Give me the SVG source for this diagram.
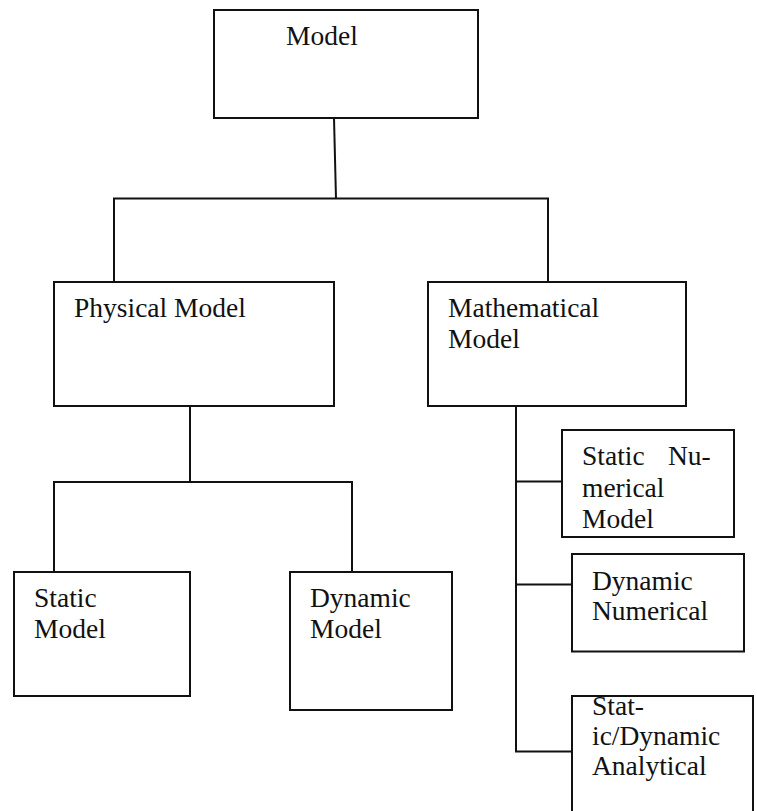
<svg xmlns="http://www.w3.org/2000/svg" width="757" height="811" viewBox="0 0 757 811">
<style>
.box{fill:#fff;stroke:#111;stroke-width:2}
.ln{fill:none;stroke:#111;stroke-width:2}
text{font-family:"Liberation Serif","Times New Roman",serif;font-size:27.5px;fill:#111}
</style>
<rect width="757" height="811" fill="#fff"/>
<g id="connectors">
<path class="ln" d="M334,118 L336,199"/>
<path class="ln" d="M114,282 V198.5 H548 V282"/>
<path class="ln" d="M190,406 V482"/>
<path class="ln" d="M54,572 V482 H352 V572"/>
<path class="ln" d="M516,406 V751.5 H572"/>
<path class="ln" d="M516,481.5 H562"/>
<path class="ln" d="M516,584.5 H572"/>
</g>
<g id="model">
<rect class="box" x="214" y="10" width="264" height="108"/>
<text x="286" y="45">Model</text>
</g>
<g id="physical">
<rect class="box" x="54" y="282" width="280" height="124"/>
<text x="74" y="317">Physical Model</text>
</g>
<g id="mathematical">
<rect class="box" x="428" y="282" width="258" height="124"/>
<text x="448" y="317">Mathematical</text>
<text x="448" y="348">Model</text>
</g>
<g id="static-model">
<rect class="box" x="14" y="572" width="176" height="124"/>
<text x="34" y="607">Static</text>
<text x="34" y="638">Model</text>
</g>
<g id="dynamic-model">
<rect class="box" x="290" y="572" width="162" height="138"/>
<text x="310" y="607">Dynamic</text>
<text x="310" y="638">Model</text>
</g>
<g id="static-numerical">
<rect class="box" x="562" y="430" width="172" height="107"/>
<text x="582" y="465">Static</text>
<text x="668" y="465">Nu-</text>
<text x="582" y="496.5">merical</text>
<text x="582" y="527.5">Model</text>
</g>
<g id="dynamic-numerical">
<rect class="box" x="572" y="554" width="172" height="97.5"/>
<text x="592" y="590">Dynamic</text>
<text x="592" y="620">Numerical</text>
</g>
<g id="static-dynamic-analytical">
<rect class="box" x="572" y="696" width="181" height="130"/>
<text x="592" y="714.5">Stat-</text>
<text x="592" y="745">ic/Dynamic</text>
<text x="592" y="775">Analytical</text>
</g>
</svg>
